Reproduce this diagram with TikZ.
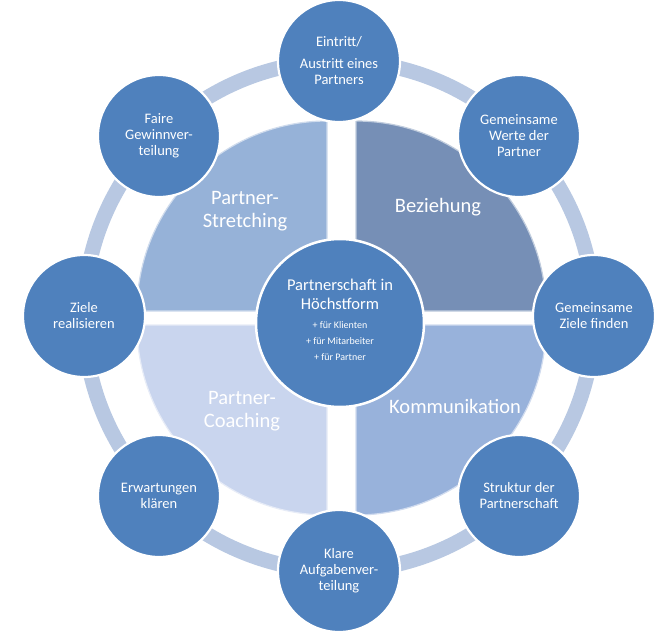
\documentclass[tikz,border=0pt]{standalone}
\usepackage{fontspec}
\setmainfont{Carlito}
\definecolor{cblue}{RGB}{79,129,189}
\definecolor{ringc}{RGB}{184,200,226}
\definecolor{qstretch}{RGB}{150,178,216}
\definecolor{qbez}{RGB}{118,143,182}
\definecolor{qkomm}{RGB}{152,178,219}
\definecolor{qcoach}{RGB}{201,213,238}
\newcommand{\smalltxt}{\fontsize{10}{15}\selectfont}
\begin{document}
\begin{tikzpicture}[x=1pt,y=-1pt,
  outer/.style={circle, draw=white, line width=2.2pt, fill=cblue, minimum size=122pt, inner sep=0pt, text=white, align=center, font=\fontsize{14.5}{16}\selectfont},
  quadlabel/.style={text=white, align=center, font=\fontsize{20.5}{23}\selectfont},
  quad/.style={draw=white!55!#1, line width=1.2pt, fill=#1},
]
\useasboundingbox (0,0) rectangle (667,634);
\fill[white] (0,0) rectangle (667,634);
% ring
\draw[ringc, line width=15pt] (339,316) circle[radius=255];
% quadrants
\path[quad=qstretch] (327,311) -- ++(-190,0) arc[start angle=180, end angle=270, radius=190] -- cycle;
\path[quad=qbez] (356,311) -- ++(0,-190) arc[start angle=270, end angle=360, radius=190] -- cycle;
\path[quad=qkomm] (356,325) -- ++(190,0) arc[start angle=0, end angle=90, radius=190] -- cycle;
\path[quad=qcoach] (327,325) -- ++(0,190) arc[start angle=90, end angle=180, radius=190] -- cycle;
\node[quadlabel] (lstretch) at (245,211) {Partner-\\Stretching};
\node[quadlabel] (lbez) at (438,207) {Beziehung};
\node[quadlabel] (lkomm) at (455,406) {Kommunikation};
\node[quadlabel] (lcoach) at (242,411) {Partner-\\Coaching};
% outer circles
\node[outer] (top) at (339,61) {Eintritt/\\[6pt]Austritt eines\\Partners};
\node[outer] (tr) at (519,136) {Gemeinsame\\Werte der\\Partner};
\node[outer] (right) at (594,316) {Gemeinsame\\Ziele finden};
\node[outer] (br) at (519,496) {Struktur der\\Partnerschaft};
\node[outer] (bottom) at (339,571) {Klare\\Aufgabenver-\\teilung};
\node[outer] (bl) at (159,496) {Erwartungen\\klären};
\node[outer] (left) at (84,316) {Ziele\\realisieren};
\node[outer] (tl) at (159,136) {Faire\\Gewinnver-\\teilung};
% center
\node[circle, draw=white, line width=2.5pt, fill=cblue, minimum size=168pt, inner sep=0pt] (ctr) at (340,323) {};
\node[text=white, align=center, font=\fontsize{16.5}{19}\selectfont] (ctrtext) at (340,320)
  {Partnerschaft in\\Höchstform\\\smalltxt + für Klienten\\[-3pt]\smalltxt + für Mitarbeiter\\[-3pt]\smalltxt + für Partner};
\end{tikzpicture}
\end{document}
